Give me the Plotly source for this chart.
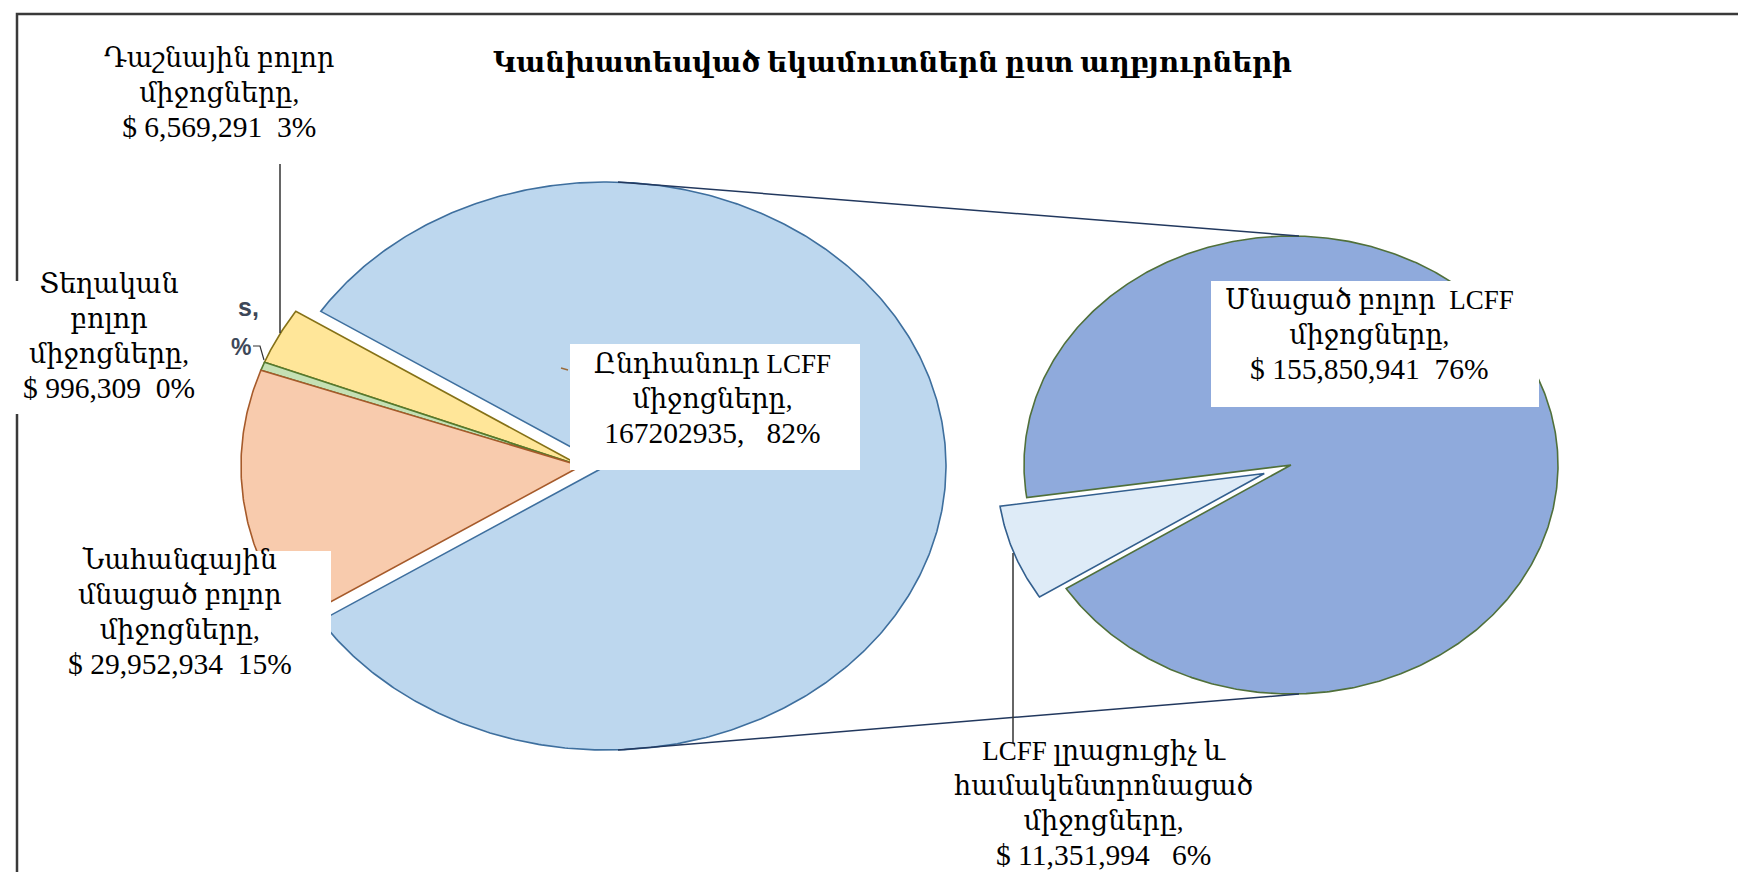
import numpy as np
import plotly.graph_objects as go

# ---------------- data ----------------
left_names = ["Ընդհանուր LCFF միջոցները", "Դաշնային բոլոր միջոցները",
              "Տեղական բոլոր միջոցները", "Նահանգային մնացած բոլոր միջոցները"]
left_values = [167202935, 6569291, 996309, 29952934]
right_names = ["LCFF լրացուցիչ և համակենտրոնացած միջոցները", "Մնացած բոլոր  LCFF միջոցները"]
right_values = [11351994, 155850941]
title_text = "Կանխատեսված եկամուտներն ըստ աղբյուրների"

# ---------------- styles / layout ----------------
W, H = 1746, 872
left_fill = ["#BDD7EE", "#FFE699", "#C5E0B4", "#F8CBAD"]
left_line = ["#3E6F9E", "#857117", "#557A2E", "#A65A2A"]
right_fill = ["#DEEBF7", "#8FAADC"]
right_line = ["#335F8E", "#50703A"]
SERIF = "Liberation Serif, DejaVu Serif, serif"

L_CX, L_CY, L_RX, L_RY = 573, 458, 340, 284
L_EXPLODE = 25
R_CX, R_CY, R_RX, R_RY = 1283, 457, 267, 229
R_START = 188.2
R_EXPLODE = 28


def wedge(cx, cy, rx, ry, a0, a1, off=0.0):
    mid = np.radians((a0 + a1) / 2)
    dx, dy = np.cos(mid) * rx, -np.sin(mid) * ry
    n = np.hypot(dx, dy)
    ox, oy = off * dx / n, off * dy / n
    t = np.radians(np.linspace(a0, a1, max(int(abs(a1 - a0) * 2), 6)))
    xs = np.concatenate([[cx + ox], cx + ox + rx * np.cos(t), [cx + ox]])
    ys = np.concatenate([[cy + oy], cy + oy - ry * np.sin(t), [cy + oy]])
    return xs, ys


fig = go.Figure()
total = sum(left_values)

# left pie: first slice (LCFF) centred at 3 o'clock, exploded to the right
span0 = 360 * left_values[0] / total
a = -span0 / 2
for i, v in enumerate(left_values):
    span = 360 * v / total
    xs, ys = wedge(L_CX, L_CY, L_RX, L_RY, a, a + span, L_EXPLODE if i == 0 else 0)
    fig.add_trace(go.Scatter(x=xs, y=ys, mode="lines", fill="toself",
                             fillcolor=left_fill[i],
                             line=dict(color=left_line[i], width=1.6),
                             hoverinfo="skip", showlegend=False))
    a += span

# right pie: breakdown of the LCFF slice
rtot = sum(right_values)
a = R_START
for i, v in enumerate(right_values):
    span = 360 * v / rtot
    xs, ys = wedge(R_CX, R_CY, R_RX, R_RY, a, a + span, R_EXPLODE if i == 0 else 0)
    fig.add_trace(go.Scatter(x=xs, y=ys, mode="lines", fill="toself",
                             fillcolor=right_fill[i],
                             line=dict(color=right_line[i], width=1.6),
                             hoverinfo="skip", showlegend=False))
    a += span

# connector lines between the pies
bx = L_CX + L_EXPLODE
for sgn in (-1, 1):
    fig.add_trace(go.Scatter(x=[bx + 12, R_CX + 8],
                             y=[L_CY + sgn * L_RY, R_CY + sgn * R_RY],
                             mode="lines", line=dict(color="#22385E", width=1.5),
                             hoverinfo="skip", showlegend=False))

# ---------------- labels ----------------
def pct(v):
    return f"{round(100 * v / total):.0f}%"

NB = "\u00a0"


def num(t):
    return f'<span style="font-size:29.5px">{t}</span>'


labels = [
    (211, 85, "Դաշնային բոլոր<br>միջոցները,<br>" + num(f"$ {left_values[1]:,}{NB}{NB}{pct(left_values[1])}")),
    (101, 328, "Տեղական<br>բոլոր<br>միջոցները,<br>" + num(f"$ {left_values[2]:,}{NB}{NB}{pct(left_values[2])}")),
    (172, 604, "Նահանգային<br>մնացած բոլոր<br>միջոցները,<br>" + num(f"$ {left_values[3]:,}{NB}{NB}{pct(left_values[3])}")),
    (704, 391, "Ընդհանուր LCFF<br>միջոցները,<br>" + num(f"{left_values[0]},{NB}{NB}{NB}{pct(left_values[0])}")),
    (1361, 327, f"Մնացած բոլոր{NB}{NB}LCFF<br>միջոցները,<br>" + num(f"$ {right_values[1]:,}{NB}{NB}{pct(right_values[1])}")),
    (1095, 795, "LCFF լրացուցիչ և<br>համակենտրոնացած<br>միջոցները,<br>" + num(f"$ {right_values[0]:,}{NB}{NB}{NB}{pct(right_values[0])}")),
]

shapes = []
# outer frame (no right edge visible)
shapes.append(dict(type="path", path="M 1746 6 L 9 6 L 9 866 L 1746 866",
                   line=dict(color="#3A3A3A", width=2.5), layer="above"))
# white label boxes
for (x0, y0, x1, y1) in [(0, 273, 217, 406), (40, 543, 323, 680), (562, 336, 852, 462),
                         (1203, 273, 1531, 399), (890, 735, 1304, 872)]:
    shapes.append(dict(type="rect", x0=x0, y0=y0, x1=x1, y1=y1, xref="x", yref="y",
                       fillcolor="white", line=dict(width=0), layer="above"))
# leader lines
shapes.append(dict(type="line", x0=272, y0=156, x1=272, y1=325,
                   line=dict(color="#333333", width=1.5), layer="above"))
shapes.append(dict(type="line", x0=1005, y0=545, x1=1005, y1=735,
                   line=dict(color="#333333", width=1.5), layer="above"))
shapes.append(dict(type="path", path="M 245 338 L 252 338 L 256 352",
                   line=dict(color="#333333", width=1.2), layer="above"))
shapes.append(dict(type="line", x0=553, y0=360, x1=560, y1=362,
                   line=dict(color="#9A6A3A", width=1.4), layer="above"))

annotations = []
for x, y, t in labels:
    annotations.append(dict(x=x, y=y, xref="x", yref="y", text=t, showarrow=False,
                            xanchor="center", yanchor="middle", align="center",
                            font=dict(family=SERIF, size=27, color="#000000")))
annotations.append(dict(x=884, y=54, xref="x", yref="y", text=f"<b>{title_text}</b>",
                        showarrow=False, xanchor="center", yanchor="middle",
                        font=dict(family=SERIF, size=27.5, color="#000000")))
# remnants of hidden labels
annotations.append(dict(x=228, y=299, xref="x", yref="y", text="<b>s,</b>", showarrow=False,
                        xanchor="left", yanchor="middle",
                        font=dict(family="Liberation Sans, Arial, sans-serif", size=25, color="#3D4758")))
annotations.append(dict(x=221, y=339, xref="x", yref="y", text="<b>%</b>", showarrow=False,
                        xanchor="left", yanchor="middle",
                        font=dict(family="Liberation Sans, Arial, sans-serif", size=23, color="#3D4758")))

fig.update_layout(
    width=W, height=H, margin=dict(l=0, r=0, t=0, b=0),
    paper_bgcolor="white", plot_bgcolor="white", showlegend=False,
    xaxis=dict(range=[0, W], visible=False, fixedrange=True),
    yaxis=dict(range=[H, 0], visible=False, fixedrange=True),
    shapes=shapes, annotations=annotations,
)
fig.write_html("out.html")
